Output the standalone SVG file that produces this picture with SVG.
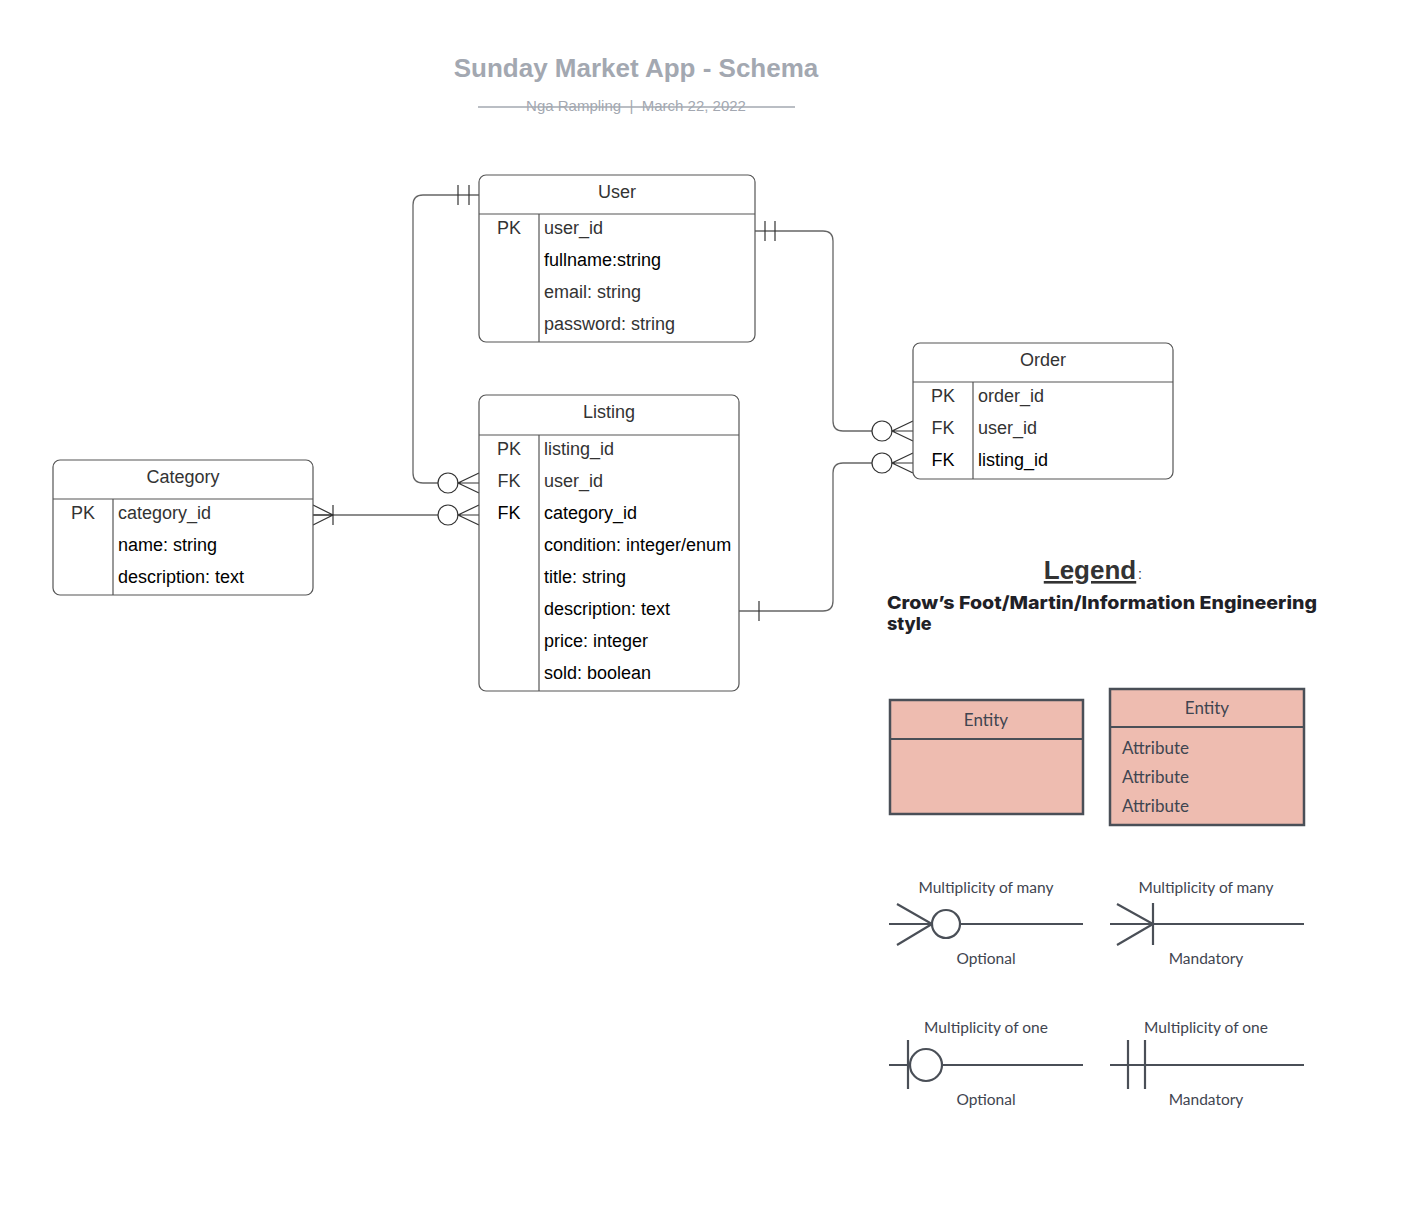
<svg xmlns="http://www.w3.org/2000/svg" width="1410" height="1221" viewBox="0 0 1410 1221">
<defs>
<style>
.t{font-family:"Liberation Sans",Arial,sans-serif;font-size:18px;fill:#333}
.k{fill:#000}
.c{text-anchor:middle}
.box{fill:#fff;stroke:#555;stroke-width:1.2}
.ln{stroke:#555;stroke-width:1.2;fill:none}
.cn{stroke:#666;stroke-width:1.3;fill:none}
.cm{stroke:#333;stroke-width:1.2;fill:none}
.cc{stroke:#333;stroke-width:1.2;fill:#fff}
.lg{font-family:Lato,"Liberation Sans",sans-serif;font-size:15.5px;fill:#3f4550}
.le{fill:#eebcb0;stroke:#4a4f57;stroke-width:2.5}
.ls{stroke:#4a4f57;stroke-width:2.2;fill:none}
.lc{stroke:#4a4f57;stroke-width:2.2;fill:#fff}
</style>
</defs>
<rect width="1410" height="1221" fill="#fff"/>
<g id="title">
<text x="636" y="77" class="c" style="font-family:'Liberation Sans',Arial,sans-serif;font-size:26px;font-weight:bold;fill:#a3a8b1">Sunday Market App - Schema</text>
<text x="636" y="111" class="c" style="font-family:'Liberation Sans',Arial,sans-serif;font-size:15px;fill:#a3a8b1" xml:space="preserve">Nga Rampling  |  March 22, 2022</text>
<line x1="478" y1="107" x2="795" y2="107" stroke="#a3a8b1" stroke-width="1.5"/>
</g>
<g id="connectors">
<path class="cn" d="M479,195 H423 Q413,195 413,205 V473 Q413,483 423,483 H438"/>
<line class="cm" x1="458" y1="185" x2="458" y2="205"/>
<line class="cm" x1="469" y1="185" x2="469" y2="205"/>
<circle class="cc" cx="448" cy="483" r="10"/>
<path class="cm" d="M479,473 L458,483 L479,493 M458,483 H479"/>
<line class="cn" x1="313" y1="515" x2="438" y2="515"/>
<path class="cm" d="M313,505 L333,515 L313,525 M313,515 H333 M333,505 V525"/>
<circle class="cc" cx="448" cy="515" r="10"/>
<path class="cm" d="M479,505 L458,515 L479,525 M458,515 H479"/>
<path class="cn" d="M755,231 H823 Q833,231 833,241 V421 Q833,431 843,431 H872"/>
<line class="cm" x1="765" y1="221" x2="765" y2="241"/>
<line class="cm" x1="775" y1="221" x2="775" y2="241"/>
<circle class="cc" cx="882" cy="431" r="10"/>
<path class="cm" d="M913,421 L892,431 L913,441 M892,431 H913"/>
<path class="cn" d="M739,611 H823 Q833,611 833,601 V473 Q833,463 843,463 H872"/>
<line class="cm" x1="759" y1="601" x2="759" y2="621"/>
<circle class="cc" cx="882" cy="463" r="10"/>
<path class="cm" d="M913,453 L892,463 L913,473 M892,463 H913"/>
</g>
<g id="user">
<rect class="box" x="479" y="175" width="276" height="167" rx="7"/>
<line class="ln" x1="479" y1="214" x2="755" y2="214"/>
<line class="ln" x1="539" y1="214" x2="539" y2="342"/>
<text class="t c" x="617" y="198">User</text>
<text class="t c" x="509" y="234">PK</text>
<text class="t" x="544" y="234">user_id</text>
<text class="t k" x="544" y="266">fullname:string</text>
<text class="t" x="544" y="298">email: string</text>
<text class="t" x="544" y="330">password: string</text>
</g>
<g id="listing">
<rect class="box" x="479" y="395" width="260" height="296" rx="7"/>
<line class="ln" x1="479" y1="435" x2="739" y2="435"/>
<line class="ln" x1="539" y1="435" x2="539" y2="691"/>
<text class="t c" x="609" y="418">Listing</text>
<text class="t c" x="509" y="455">PK</text>
<text class="t" x="544" y="455">listing_id</text>
<text class="t c" x="509" y="487">FK</text>
<text class="t" x="544" y="487">user_id</text>
<text class="t k c" x="509" y="519">FK</text>
<text class="t k" x="544" y="519">category_id</text>
<text class="t k" x="544" y="551">condition: integer/enum</text>
<text class="t k" x="544" y="583">title: string</text>
<text class="t k" x="544" y="615">description: text</text>
<text class="t k" x="544" y="647">price: integer</text>
<text class="t k" x="544" y="679">sold: boolean</text>
</g>
<g id="category">
<rect class="box" x="53" y="460" width="260" height="135" rx="7"/>
<line class="ln" x1="53" y1="499" x2="313" y2="499"/>
<line class="ln" x1="113" y1="499" x2="113" y2="595"/>
<text class="t c" x="183" y="483">Category</text>
<text class="t c" x="83" y="519">PK</text>
<text class="t" x="118" y="519">category_id</text>
<text class="t k" x="118" y="551">name: string</text>
<text class="t k" x="118" y="583">description: text</text>
</g>
<g id="order">
<rect class="box" x="913" y="343" width="260" height="136" rx="7"/>
<line class="ln" x1="913" y1="382" x2="1173" y2="382"/>
<line class="ln" x1="973" y1="382" x2="973" y2="479"/>
<text class="t c" x="1043" y="366">Order</text>
<text class="t c" x="943" y="402">PK</text>
<text class="t" x="978" y="402">order_id</text>
<text class="t c" x="943" y="434">FK</text>
<text class="t" x="978" y="434">user_id</text>
<text class="t k c" x="943" y="466">FK</text>
<text class="t k" x="978" y="466">listing_id</text>
</g>
<g id="legend">
<text x="1090" y="579" class="c" style="font-family:'Liberation Sans',Arial,sans-serif;font-size:26px;font-weight:bold;fill:#333;text-decoration:underline">Legend</text>
<text x="1138" y="579" style="font-family:'Liberation Sans',Arial,sans-serif;font-size:14px;fill:#333">:</text>
<text x="887" y="609" textLength="430" lengthAdjust="spacingAndGlyphs" style="font-family:Inter,'Liberation Sans',sans-serif;font-size:18px;font-weight:800;fill:#1f2127">Crow’s Foot/Martin/Information Engineering</text>
<text x="887" y="630" style="font-family:Inter,'Liberation Sans',sans-serif;font-size:18px;font-weight:800;fill:#1f2127">style</text>
<g id="legend-entity">
<rect class="le" x="890" y="700" width="193" height="114"/>
<line class="ls" x1="890" y1="739" x2="1083" y2="739"/>
<text class="lg c" x="986" y="726" style="font-size:17px">Entity</text>
</g>
<g id="legend-entity-attrs">
<rect class="le" x="1110" y="689" width="194" height="136"/>
<line class="ls" x1="1110" y1="727" x2="1304" y2="727"/>
<text class="lg c" x="1207" y="714" style="font-size:17px">Entity</text>
<text class="lg" x="1122" y="754" style="font-size:17px">Attribute</text>
<text class="lg" x="1122" y="783" style="font-size:17px">Attribute</text>
<text class="lg" x="1122" y="812" style="font-size:17px">Attribute</text>
</g>
<g id="legend-many-optional">
<text class="lg c" x="986" y="893">Multiplicity of many</text>
<line class="ls" x1="889" y1="924" x2="1083" y2="924"/>
<path class="ls" d="M897,904 L932,924 L897,945"/>
<circle class="lc" cx="946" cy="924" r="14"/>
<text class="lg c" x="986" y="964">Optional</text>
</g>
<g id="legend-many-mandatory">
<text class="lg c" x="1206" y="893">Multiplicity of many</text>
<line class="ls" x1="1110" y1="924" x2="1304" y2="924"/>
<path class="ls" d="M1117,904 L1153,924 L1117,945 M1153,903 V945"/>
<text class="lg c" x="1206" y="964">Mandatory</text>
</g>
<g id="legend-one-optional">
<text class="lg c" x="986" y="1033">Multiplicity of one</text>
<line class="ls" x1="889" y1="1065" x2="1083" y2="1065"/>
<line class="ls" x1="908" y1="1040" x2="908" y2="1089"/>
<circle class="lc" cx="926" cy="1065" r="16"/>
<text class="lg c" x="986" y="1105">Optional</text>
</g>
<g id="legend-one-mandatory">
<text class="lg c" x="1206" y="1033">Multiplicity of one</text>
<line class="ls" x1="1110" y1="1065" x2="1304" y2="1065"/>
<line class="ls" x1="1128" y1="1040" x2="1128" y2="1089"/>
<line class="ls" x1="1145" y1="1040" x2="1145" y2="1089"/>
<text class="lg c" x="1206" y="1105">Mandatory</text>
</g>
</g>
</svg>
